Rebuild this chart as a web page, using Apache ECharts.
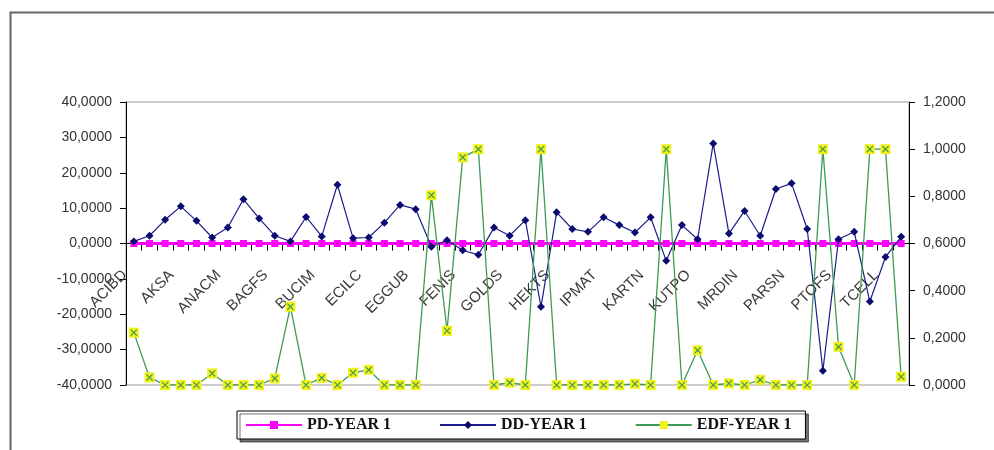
<!DOCTYPE html>
<html>
<head>
<meta charset="utf-8">
<script src="https://cdn.jsdelivr.net/npm/echarts@6/dist/echarts.min.js"></script>
<style>
html,body{margin:0;padding:0;background:#fff;}
#chart{width:994px;height:450px;}
</style>
</head>
<body>
<div id="chart"></div>
<script>
// Visible category labels (every third category)
const tickLabels = ['ACIBD','AKSA','ANACM','BAGFS','BUCIM','ECILC','EGGUB','FENIS','GOLDS','HEKTS','IPMAT','KARTN','KUTPO','MRDIN','PARSN','PTOFS','TCELL'];
const categoryCount = 50;
// categories: names of unlabeled categories are not readable, left blank
const categories = [];
for (let i = 0; i < categoryCount; i++) categories.push(i % 3 === 0 ? tickLabels[i / 3] : '');

const pdYear1 = [0,0,0,0,0,0,0,0,0,0, 0,0,0,0,0,0,0,0,0,0, 0,0,0,0,0,0,0,0,0,0, 0,0,0,0,0,0,0,0,0,0, 0,0,0,0,0,0,0,0,0,0];
const ddYear1 = [0.6,2.2,6.7,10.5,6.4,1.7,4.5,12.5,7.1,2.2,
                 0.6,7.5,2.0,16.6,1.5,1.7,5.9,10.9,9.7,-0.9,
                 0.9,-1.9,-3.2,4.5,2.2,6.6,-17.9,8.8,4.1,3.3,
                 7.4,5.2,3.1,7.4,-4.9,5.2,1.2,28.3,2.8,9.2,
                 2.2,15.4,17.0,4.1,-36.0,1.2,3.3,-16.4,-3.8,1.9];
const edfYear1 = [0.222,0.032,0,0,0,0.049,0,0,0,0.028,
                  0.332,0,0.03,0,0.052,0.064,0,0,0,0.805,
                  0.230,0.965,1.0,0,0.01,0,1.0,0,0,0,
                  0,0,0.005,0,1.0,0,0.147,0,0.007,0,
                  0.022,0,0,0,1.0,0.162,0,1.0,1.0,0.035];
const leftTicks = {min:-40, max:40, interval:10};
const rightTicks = {min:0, max:1.2, interval:0.2};

const fmt = v => v.toFixed(4).replace('.', ',');
const xPath = 'path://M0,1.2 L1.2,0 L5,3.8 L8.8,0 L10,1.2 L6.2,5 L10,8.8 L8.8,10 L5,6.2 L1.2,10 L0,8.8 L3.8,5 Z';

const gridTop = 102, gridBottom = 65, chartH = 450;
const plotH = chartH - gridTop - gridBottom;
// category axis sits on the left axis' zero line (Excel style)
const zeroOffset = -plotH * (0 - leftTicks.min) / (leftTicks.max - leftTicks.min);

const chart = echarts.init(document.getElementById('chart'));
chart.setOption({
  backgroundColor: '#fff',
  animation: false,
  graphic: [{
    type: 'rect', left: 8, top: 10, silent: true,
    shape: {width: 1100, height: 500},
    style: {fill: 'none', stroke: '#666', lineWidth: 2}
  }],
  grid: {left: 126, right: 85, top: gridTop, bottom: gridBottom, show: true, borderColor: '#9a9a9a', borderWidth: 1, backgroundColor: 'transparent'},
  legend: {
    data: ['PD-YEAR 1','DD-YEAR 1','EDF-YEAR 1'],
    left: 237, top: 411, width: 700,
    itemWidth: 56, itemHeight: 10, itemGap: 48,
    padding: [6, 14, 6, 8],
    backgroundColor: '#fff', borderColor: '#000', borderWidth: 1,
    shadowColor: 'rgba(0,0,0,0.55)', shadowOffsetX: 3, shadowOffsetY: 3, shadowBlur: 0,
    textStyle: {fontFamily: 'Liberation Serif', fontWeight: 'bold', fontSize: 16, color: '#111'}
  },
  xAxis: {
    type: 'category', data: categories, boundaryGap: true,
    position: 'bottom', offset: zeroOffset,
    axisLine: {onZero: false, lineStyle: {color: '#000'}},
    axisTick: {show: true, interval: 0, length: 7, lineStyle: {color: '#000'}},
    axisLabel: {interval: 0, rotate: 45, margin: 20, padding: [0, 13, 0, 0], fontFamily: 'Liberation Sans', fontSize: 15, color: '#3a3a3a'},
    splitLine: {show: false}
  },
  yAxis: [{
    type: 'value', min: leftTicks.min, max: leftTicks.max, interval: leftTicks.interval,
    axisLine: {show: true, onZero: false, lineStyle: {color: '#000'}},
    axisTick: {show: true, length: 6, lineStyle: {color: '#000'}},
    axisLabel: {formatter: fmt, margin: 14, fontFamily: 'Liberation Sans', fontSize: 14, color: '#333'},
    splitLine: {show: false}
  }, {
    type: 'value', min: rightTicks.min, max: rightTicks.max, interval: rightTicks.interval,
    axisLine: {show: true, onZero: false, lineStyle: {color: '#000'}},
    axisTick: {show: true, length: 6, lineStyle: {color: '#000'}},
    axisLabel: {formatter: fmt, margin: 14, fontFamily: 'Liberation Sans', fontSize: 14, color: '#333'},
    splitLine: {show: false}
  }],
  series: [{
    name: 'PD-YEAR 1', type: 'line', yAxisIndex: 0, data: pdYear1,
    symbol: 'rect', symbolSize: 7, showSymbol: true,
    lineStyle: {color: '#ff00ff', width: 3},
    itemStyle: {color: '#ff00ff'}, z: 3
  }, {
    name: 'DD-YEAR 1', type: 'line', yAxisIndex: 0, data: ddYear1,
    symbol: 'diamond', symbolSize: 8,
    lineStyle: {color: '#1c1c8c', width: 1.2},
    itemStyle: {color: '#0a0a70'}, z: 4
  }, {
    name: 'EDF-YEAR 1', type: 'line', yAxisIndex: 1, data: edfYear1,
    symbol: 'rect', symbolSize: 10,
    lineStyle: {color: '#3f9a55', width: 1.3},
    itemStyle: {color: '#f2f21a'}, z: 5
  }, {
    name: 'EDF-X', type: 'line', yAxisIndex: 1, data: edfYear1,
    symbol: xPath, symbolSize: 7, silent: true,
    lineStyle: {opacity: 0},
    itemStyle: {color: '#3f9a55'}, z: 6
  }]
});
</script>
</body>
</html>
